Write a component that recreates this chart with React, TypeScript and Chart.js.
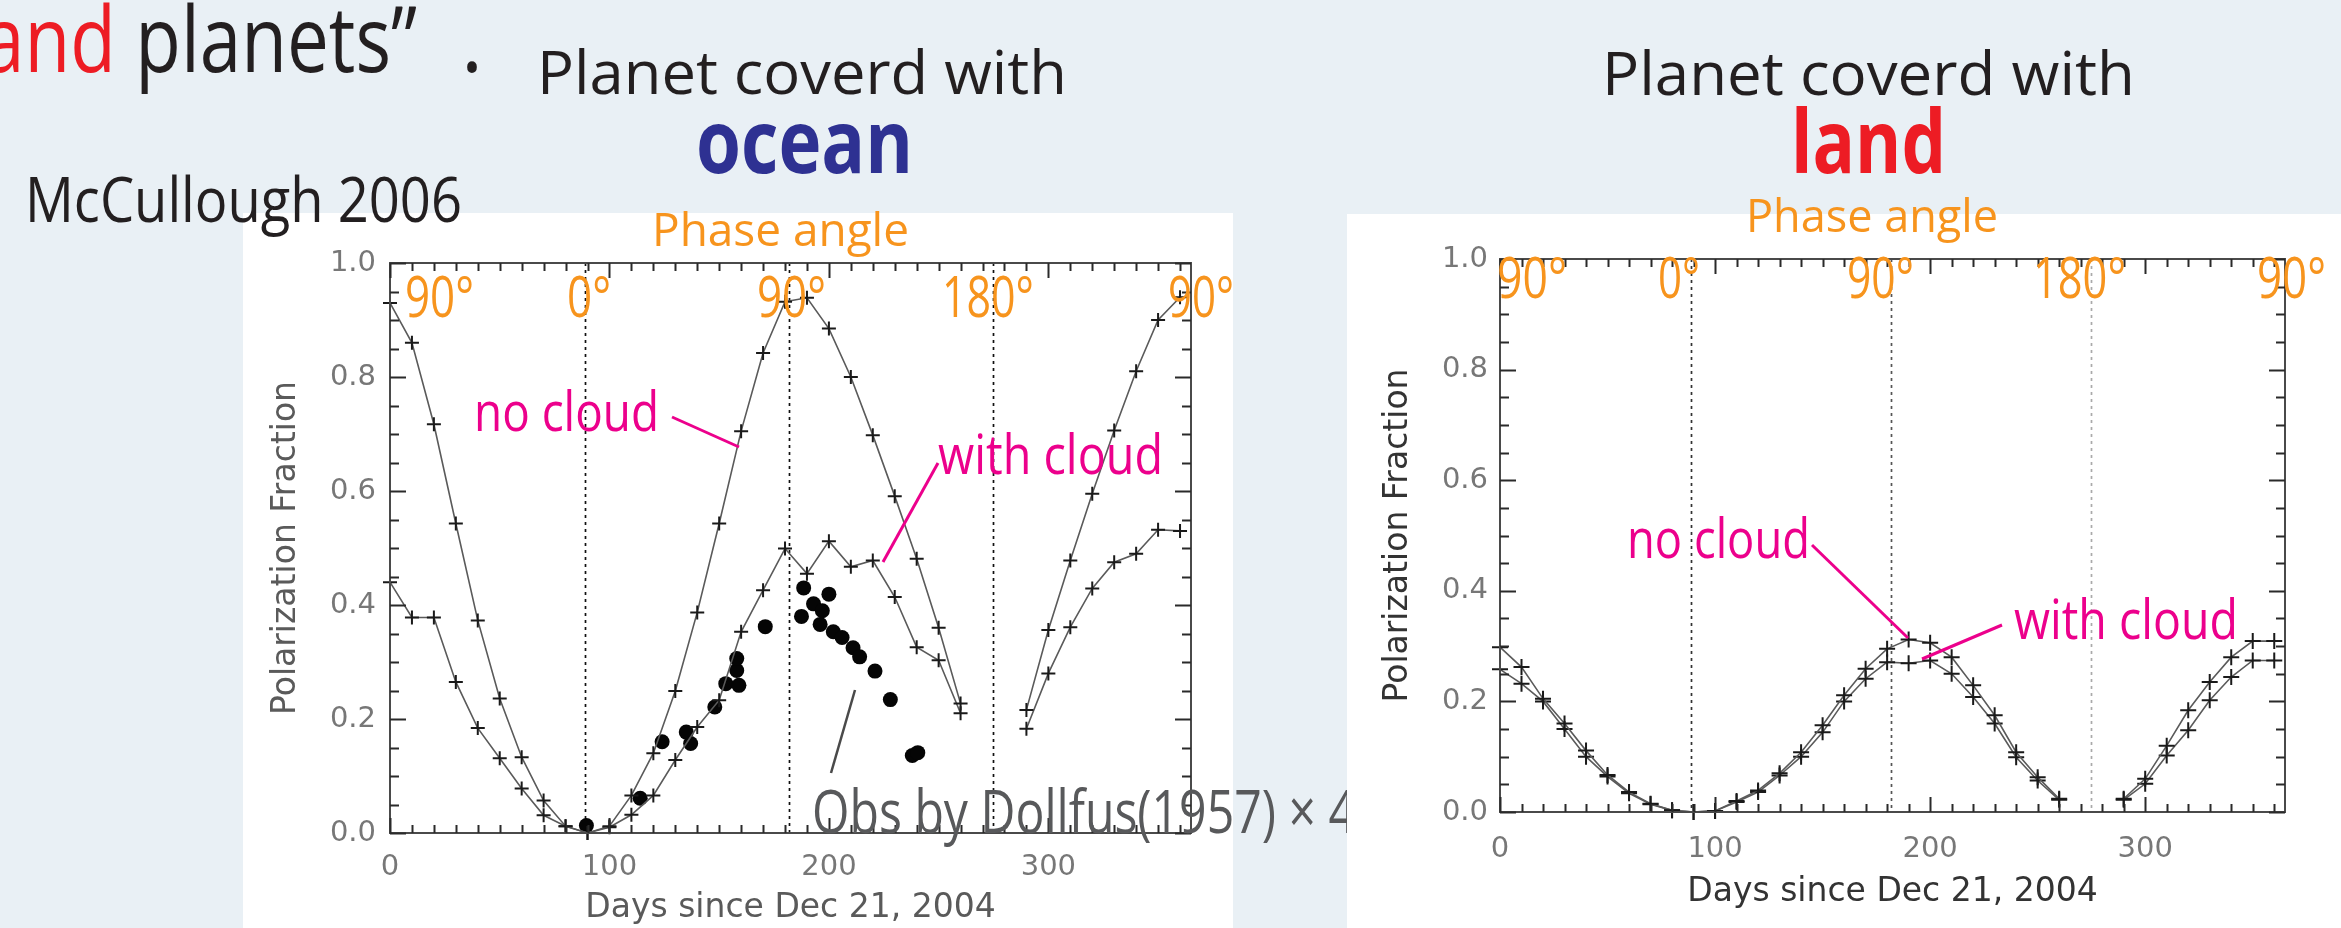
import React, { useEffect, useRef } from 'react';
import { Chart, registerables } from 'chart.js';

Chart.register(...registerables);

// ---------------- DATA ----------------
const days = [0, 10, 20, 30, 40, 50, 60, 70, 80, 90, 100, 110, 120, 130, 140, 150, 160, 170, 180, 190, 200, 210, 220, 230, 240, 250, 260, 270, 280, 290, 300, 310, 320, 330, 340, 350, 360];

// Ocean planet (left panel)
const oceanNoCloud = [0.93, 0.86, 0.717, 0.543, 0.373, 0.236, 0.133, 0.057, 0.012, 0.0, 0.012, 0.066, 0.14, 0.249, 0.387, 0.543, 0.705, 0.842, 0.932, 0.939, 0.885, 0.80, 0.698, 0.591, 0.481, 0.36, 0.227, null, null, 0.216, 0.356, 0.478, 0.595, 0.706, 0.81, 0.90, 0.94];
const oceanWithCloud = [0.44, 0.378, 0.378, 0.265, 0.184, 0.131, 0.078, 0.031, 0.012, 0.0, 0.01, 0.032, 0.066, 0.128, 0.186, 0.233, 0.353, 0.426, 0.499, 0.455, 0.512, 0.467, 0.478, 0.414, 0.326, 0.303, 0.21, null, null, 0.183, 0.28, 0.361, 0.429, 0.475, 0.49, 0.532, 0.53];

// Dollfus (1957) observations x4
const obsDays = [89.5, 114, 124, 135, 137, 148, 153, 158, 158, 159, 171, 187.5, 188.5, 193, 196, 197, 200, 202, 206, 211, 214, 221, 228, 238, 240.5];
const obsValues = [0.013, 0.061, 0.16, 0.177, 0.157, 0.221, 0.262, 0.285, 0.306, 0.259, 0.362, 0.38, 0.43, 0.402, 0.366, 0.39, 0.419, 0.353, 0.343, 0.325, 0.309, 0.284, 0.234, 0.136, 0.141];

// Land planet (right panel)
const landNoCloud = [0.298, 0.262, 0.205, 0.16, 0.111, 0.067, 0.036, 0.015, 0.003, 0.0, 0.002, 0.02, 0.039, 0.07, 0.108, 0.157, 0.211, 0.259, 0.295, 0.312, 0.306, 0.28, 0.229, 0.175, 0.108, 0.063, 0.024, null, null, 0.024, 0.06, 0.12, 0.184, 0.235, 0.28, 0.309, 0.309];
const landWithCloud = [0.258, 0.232, 0.20, 0.15, 0.10, 0.064, 0.034, 0.014, 0.003, 0.0, 0.002, 0.018, 0.036, 0.066, 0.1, 0.144, 0.20, 0.241, 0.271, 0.269, 0.274, 0.25, 0.208, 0.16, 0.099, 0.057, 0.022, null, null, 0.022, 0.051, 0.102, 0.148, 0.202, 0.244, 0.274, 0.274];

// Axes / ticks
const xTickLabels = [0, 100, 200, 300];
const yTickLabels = [0.0, 0.2, 0.4, 0.6, 0.8, 1.0];
const xMinorTickDays = [0, 10, 20, 30, 40, 50, 60, 70, 80, 90, 100, 110, 120, 130, 140, 150, 160, 170, 180, 190, 200, 210, 220, 230, 240, 250, 260, 270, 280, 290, 300, 310, 320, 330, 340, 350, 360];
const yMinorTickValues = [0, 0.05, 0.1, 0.15, 0.2, 0.25, 0.3, 0.35, 0.4, 0.45, 0.5, 0.55, 0.6, 0.65, 0.7, 0.75, 0.8, 0.85, 0.9, 0.95, 1.0];
const phaseLineDays = [89, 182, 275]; // phase angle 0°, 90°, 180°

// ---------------- PLUGIN ----------------
const idlPlugin = {
  id: 'idlFrame',
  beforeDatasetsDraw(chart: any, _a: any, o: any) {
    const { ctx, chartArea: a, scales } = chart;
    const x = scales.x;
    ctx.save();
    ctx.lineWidth = 1.7;
    ctx.setLineDash([3, 4]);
    phaseLineDays.forEach((d, i) => {
      const px = Math.round(x.getPixelForValue(d)) + 0.5;
      ctx.strokeStyle = o.phaseColors[i];
      ctx.beginPath();
      ctx.moveTo(px, a.top);
      ctx.lineTo(px, a.bottom);
      ctx.stroke();
    });
    ctx.restore();
  },
  afterDraw(chart: any, _a: any, o: any) {
    const { ctx, chartArea: a, scales } = chart;
    const x = scales.x;
    const y = scales.y;
    ctx.save();
    ctx.strokeStyle = o.frameColor;
    ctx.lineWidth = 2;
    ctx.strokeRect(a.left, a.top, a.right - a.left, a.bottom - a.top);
    ctx.strokeStyle = o.tickColor;
    ctx.lineWidth = 2;
    xMinorTickDays.forEach((d) => {
      const px = Math.round(x.getPixelForValue(d)) + 0.5;
      const len = xTickLabels.includes(d) ? 15 : 8;
      ctx.beginPath();
      ctx.moveTo(px, a.bottom);
      ctx.lineTo(px, a.bottom - len);
      ctx.moveTo(px, a.top);
      ctx.lineTo(px, a.top + len);
      ctx.stroke();
    });
    yMinorTickValues.forEach((v) => {
      const py = Math.round(y.getPixelForValue(v)) + 0.5;
      const major = yTickLabels.some((t) => Math.abs(t - v) < 1e-6);
      const len = major ? 16 : 9;
      ctx.beginPath();
      ctx.moveTo(a.left, py);
      ctx.lineTo(a.left + len, py);
      ctx.moveTo(a.right, py);
      ctx.lineTo(a.right - len, py);
      ctx.stroke();
    });
    ctx.restore();
  },
};

type PanelOpts = {
  noCloud: (number | null)[];
  withCloud: (number | null)[];
  obs?: boolean;
  padTop: number;
  padRight: number;
  yWidth: number;
  xHeight: number;
  yTickPad: number;
  xTickPad: number;
  yTitlePad: number;
  xTitlePad: number;
  crossR: number;
  phaseColors: string[];
  titleColor: string;
};

function toPoints(vals: (number | null)[]) {
  return days.map((d, i) => ({ x: d, y: vals[i] }));
}

function makeConfig(p: PanelOpts): any {
  const tickFont = { family: 'DejaVu Sans', size: 29 };
  const titleFont = { family: 'DejaVu Sans', size: 33 };
  const lineDs = (vals: (number | null)[]) => ({
    data: toPoints(vals),
    borderColor: '#5a5a5a',
    borderWidth: 1.6,
    pointStyle: 'cross',
    pointRadius: p.crossR,
    pointBorderColor: '#1a1a1a',
    pointBorderWidth: 2,
    spanGaps: false,
    tension: 0,
    clip: false,
    fill: false,
  });
  const datasets: any[] = [lineDs(p.noCloud), lineDs(p.withCloud)];
  if (p.obs) {
    datasets.push({
      data: obsDays.map((d, i) => ({ x: d, y: obsValues[i] })),
      showLine: false,
      pointStyle: 'circle',
      pointRadius: 7.5,
      pointBackgroundColor: '#050505',
      pointBorderWidth: 0,
      borderWidth: 0,
      clip: false,
    });
  }
  return {
    type: 'line',
    data: { datasets },
    options: {
      animation: false,
      responsive: false,
      maintainAspectRatio: false,
      devicePixelRatio: 1,
      layout: { padding: { top: p.padTop, right: p.padRight, left: 0, bottom: 0 } },
      plugins: {
        legend: { display: false },
        tooltip: { enabled: false },
        idlFrame: { phaseColors: p.phaseColors, tickColor: '#2a2a2a', frameColor: '#4a4a4a' },
      },
      scales: {
        x: {
          type: 'linear',
          min: 0,
          max: 365,
          afterBuildTicks: (s: any) => {
            s.ticks = xTickLabels.map((v) => ({ value: v }));
          },
          afterFit: (s: any) => {
            s.height = p.xHeight;
          },
          grid: { display: false, drawTicks: false },
          border: { display: false },
          ticks: { font: tickFont, color: '#777', padding: p.xTickPad, maxRotation: 0, autoSkip: false },
          title: {
            display: true,
            text: 'Days since Dec 21, 2004',
            font: titleFont,
            color: p.titleColor,
            padding: { top: 0, bottom: p.xTitlePad },
          },
        },
        y: {
          type: 'linear',
          min: 0,
          max: 1,
          afterBuildTicks: (s: any) => {
            s.ticks = yTickLabels.map((v) => ({ value: v }));
          },
          afterFit: (s: any) => {
            s.width = p.yWidth;
          },
          grid: { display: false, drawTicks: false },
          border: { display: false },
          ticks: {
            font: tickFont,
            color: '#777',
            padding: p.yTickPad,
            callback: (v: any) => Number(v).toFixed(1),
          },
          title: {
            display: true,
            text: 'Polarization Fraction',
            font: titleFont,
            color: p.titleColor,
            padding: { top: p.yTitlePad, bottom: 0 },
          },
        },
      },
    },
    plugins: [idlPlugin],
  };
}

function ChartPanel(props: { left: number; top: number; width: number; height: number; opts: PanelOpts }) {
  const ref = useRef<HTMLCanvasElement | null>(null);
  useEffect(() => {
    if (!ref.current) return;
    const chart = new Chart(ref.current, makeConfig(props.opts));
    return () => chart.destroy();
  }, []);
  return (
    <canvas
      ref={ref}
      width={props.width}
      height={props.height}
      style={{
        position: 'absolute',
        left: props.left,
        top: props.top,
        width: props.width,
        height: props.height,
        background: '#ffffff',
      }}
    />
  );
}

const OS = "'Open Sans', 'Noto Sans', sans-serif";
const ORANGE = '#F7941D';
const MAGENTA = '#EC008C';
const INK = '#231F20';

function T(props: { x: number; y: number; w: number; size: number; fill: string; weight?: number; children: any; anchor?: string }) {
  return (
    <text
      x={props.x}
      y={props.y}
      textLength={props.w}
      lengthAdjust="spacingAndGlyphs"
      fontFamily={OS}
      fontSize={props.size}
      fontWeight={props.weight || 400}
      fill={props.fill}
      textAnchor={props.anchor || 'start'}
    >
      {props.children}
    </text>
  );
}

const svgStyle: React.CSSProperties = { position: 'absolute', left: 0, top: 0, pointerEvents: 'none' };

export default function App() {
  const leftOpts: PanelOpts = {
    noCloud: oceanNoCloud,
    withCloud: oceanWithCloud,
    obs: true,
    padTop: 50,
    padRight: 42,
    yWidth: 147,
    xHeight: 95,
    yTickPad: 14,
    xTickPad: 17,
    yTitlePad: 24,
    xTitlePad: 0,
    crossR: 7,
    phaseColors: ['#111', '#111', '#111'],
    titleColor: '#5a5a5a',
  };
  const rightOpts: PanelOpts = {
    noCloud: landNoCloud,
    withCloud: landWithCloud,
    padTop: 45,
    padRight: 56,
    yWidth: 153,
    xHeight: 116,
    yTickPad: 12,
    xTickPad: 20,
    yTitlePad: 32,
    xTitlePad: 16,
    crossR: 8,
    phaseColors: ['#333', '#555', '#aaa'],
    titleColor: '#333',
  };
  return (
    <div style={{ position: 'absolute', left: 0, top: 0, width: 2341, height: 928, background: '#E9F0F5', overflow: 'hidden' }}>
      <ChartPanel left={243} top={213} width={990} height={715} opts={leftOpts} />
      <svg width={2341} height={928} style={svgStyle}>
        {/* slide header */}
        <text x={-17} y={72} textLength={434} lengthAdjust="spacingAndGlyphs" fontFamily={OS} fontSize={92}>
          <tspan fill="#ED1C24">and</tspan>
          <tspan fill={INK}> planets”</tspan>
        </text>
        <T x={472} y={72} w={22} size={92} fill={INK} anchor="middle">.</T>
        <T x={537} y={94} w={530} size={60} fill={INK}>Planet coverd with</T>
        <T x={696} y={173} w={217} size={88} fill="#2E3192" weight={700}>ocean</T>
        <T x={25} y={222} w={437} size={63} fill={INK}>McCullough 2006</T>
        <T x={652} y={246} w={257} size={46} fill={ORANGE}>Phase angle</T>
        {/* phase angle labels (left) */}
        <T x={405} y={317} w={69} size={56} fill={ORANGE}>90°</T>
        <T x={567} y={317} w={44} size={56} fill={ORANGE}>0°</T>
        <T x={757} y={317} w={69} size={56} fill={ORANGE}>90°</T>
        <T x={942} y={317} w={92} size={56} fill={ORANGE}>180°</T>
        <T x={1168} y={317} w={66} size={56} fill={ORANGE}>90°</T>
        {/* annotations (left) */}
        <T x={474} y={431} w={185} size={54} fill={MAGENTA}>no cloud</T>
        <T x={938} y={474} w={225} size={54} fill={MAGENTA}>with cloud</T>
        <line x1={672} y1={417} x2={739} y2={447} stroke={MAGENTA} strokeWidth={3} />
        <line x1={938} y1={463} x2={883} y2={562} stroke={MAGENTA} strokeWidth={3} />
        <line x1={855} y1={690} x2={831} y2={773} stroke="#4a4a4a" strokeWidth={2.5} />
        <T x={812} y={833} w={544} size={60} fill="#58595B">Obs by Dollfus(1957) × 4</T>
      </svg>
      <ChartPanel left={1347} top={214} width={994} height={714} opts={rightOpts} />
      <svg width={2341} height={928} style={svgStyle}>
        <T x={1602} y={95} w={533} size={60} fill={INK}>Planet coverd with</T>
        <T x={1791} y={173} w={155} size={88} fill="#ED1C24" weight={700}>land</T>
        <T x={1746} y={232} w={252} size={46} fill={ORANGE}>Phase angle</T>
        <T x={1497} y={298} w={70} size={56} fill={ORANGE}>90°</T>
        <T x={1658} y={298} w={42} size={56} fill={ORANGE}>0°</T>
        <T x={1847} y={298} w={67} size={56} fill={ORANGE}>90°</T>
        <T x={2033} y={298} w={93} size={56} fill={ORANGE}>180°</T>
        <T x={2257} y={298} w={69} size={56} fill={ORANGE}>90°</T>
        <T x={1627} y={558} w={183} size={54} fill={MAGENTA}>no cloud</T>
        <T x={2014} y={639} w={224} size={54} fill={MAGENTA}>with cloud</T>
        <line x1={1812} y1={545} x2={1908} y2={638} stroke={MAGENTA} strokeWidth={3} />
        <line x1={2002} y1={625} x2={1922} y2={659} stroke={MAGENTA} strokeWidth={3} />
      </svg>
    </div>
  );
}
